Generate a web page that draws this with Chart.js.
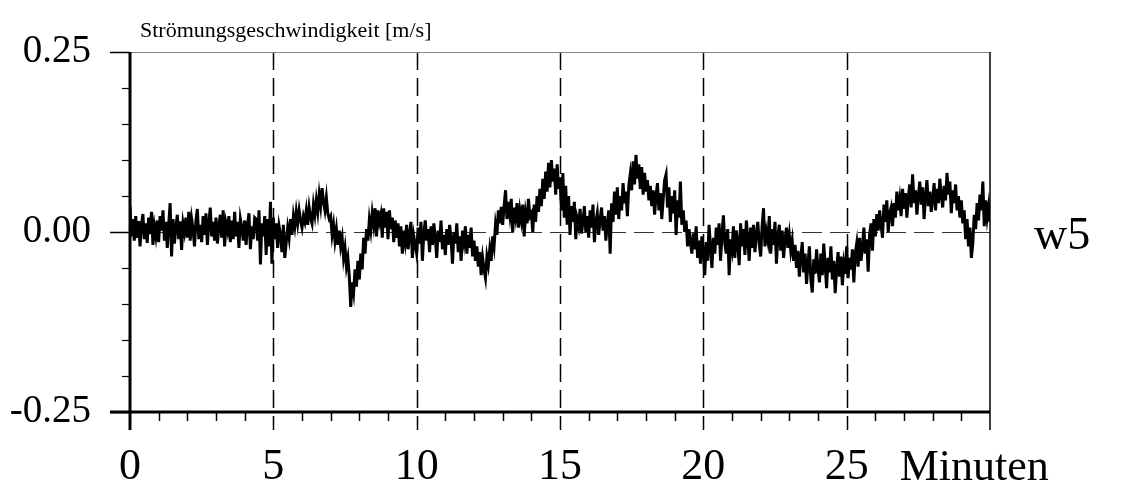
<!DOCTYPE html>
<html>
<head>
<meta charset="utf-8">
<script src="https://cdn.jsdelivr.net/npm/chart.js@4/dist/chart.umd.min.js"></script>
<style>
  html, body { margin: 0; padding: 0; background: #fff; }
  #wrap { width: 1126px; height: 486px; }
</style>
</head>
<body>
<div id="wrap"><canvas id="c" width="1126" height="486"></canvas></div>
<script>
// Axis text
const TITLE = 'Strömungsgeschwindigkeit [m/s]';
const X_UNIT = 'Minuten';
const SERIES_NAME = 'w5';

// Time axis (minutes)
const X_MIN = 0, X_MAX = 30;
const X_TICK_LABELS = [0, 5, 10, 15, 20, 25];
const X_GRID_MINUTES = [5, 10, 15, 20, 25];

// Velocity axis (m/s)
const Y_MIN = -0.25, Y_MAX = 0.25, Y_STEP = 0.05;
const Y_TICK_LABELS = [-0.25, 0, 0.25];

// Sampling of the record: one sample every 3 s
const SAMPLE_INTERVAL_MIN = 0.05;

// Vertical velocity w5 in mm/s, one row per minute (20 samples each)
const w5_mm_per_s = [
  36, -6, 18, -12, 22, -8, 15, -20, 10, 25, -10, 12, -15, 20, -3, 28, -18, 8, -6, 16,
  -14, 22, 2, 30, -12, 14, -22, 10, 40, -34, 18, -16, 6, 24, -10, 15, -25, 12, 0, 20,
  -8, 28, -12, 18, 4, -20, 16, 32, -10, 10, -14, 22, -4, 26, -18, 12, 34, -6, 14, -12,
  20, -16, 8, 24, -8, 30, -20, 12, 2, 22, -14, 16, -10, 28, -6, 14, -22, 18, 6, -12,
  16, -18, 10, 26, -24, 8, -10, 20, 18, -12, 30, -45, 12, -6, 22, -32, 18, -20, 42, -44,
  20, -10, 12, -22, 8, -4, -28, 10, -36, -14, 6, -8, 18, -4, 22, 8, 28, 12, 30, 16,
  6, 22, 14, 30, 10, 34, 20, 12, 38, 24, 44, 28, 52, 36, 61, 42, 30, 48, 26, 18,
  22, -4, 10, -12, 4, -18, 2, -20, -8, -36, -22, -48, -36, -62, -104, -70, -84, -52, -76, -40,
  -66, -30, -52, -8, -30, 4, -12, 17, 2, 26, 10, 33, -6, 30, 14, 24, -8, 33, 6, 28,
  -10, 30, 4, 20, -14, 16, -8, 12, -20, 8, -30, 2, -14, 10, -24, -4, 14, -36, -6, -18,
  -30, 6, -16, 14, -40, -2, 16, -12, 4, -28, 8, -18, 12, -8, -36, 2, -14, 16, -24, -4,
  -32, 4, -18, 10, -10, -44, 0, -16, 12, -28, -6, -40, 2, -14, 8, -30, -4, -22, 6, -34,
  -12, -40, -20, -48, -28, -60, -36, -52, -64, -34, -46, -24, -40, -6, -20, 10, -4, 30, 12, 35,
  10, 36, 58, 18, 42, 24, 46, 0, 34, 20, 40, 6, 30, 16, 38, -6, 26, 12, 46, 22,
  26, 0, 38, 14, 50, 28, 60, 36, 74, 46, 84, 56, 96, 62, 100, 70, 88, 52, 94, 60,
  76, 30, 82, 20, 64, 10, 50, -4, 36, 14, 42, -10, 18, 8, 32, -2, 14, 36, 0, 22,
  -8, 30, 6, 38, -14, 14, 26, -4, 18, 34, 2, 22, -12, 12, 30, -30, 40, 14, 56, 24,
  62, 18, 50, 30, 68, 40, 56, 22, 64, 80, 58, 98, 66, 107, 74, 94, 60, 90, 52, 82,
  56, 72, 44, 64, 36, 58, 24, 50, 68, 30, 54, 18, 46, 72, 80, 34, 62, 14, 50, 26,
  58, -4, 44, 20, 70, 10, 30, 0, 16, -20, 4, -14, -30, -2, -24, 8, -36, -12, -44, -6,
  -26, -60, -14, -40, 10, -22, -50, -8, -30, 6, -18, 12, -40, -4, 23, -16, -30, 4, -60, -10,
  -24, 8, -36, 2, -14, -46, 12, -20, 4, -32, 16, -10, -40, 6, -22, 10, -28, -4, 14, -16,
  -34, 8, 33, -20, 0, -12, 22, -30, 4, -18, 14, -44, -6, 10, -26, 2, -36, -10, 6, -22,
  -4, -26, -12, -40, -18, -50, -26, -62, -36, -14, -56, -30, -72, -44, -20, -66, -84, -38, -58, -24,
  -50, -70, -30, -60, -16, -46, -78, -36, -56, -20, -66, -40, -85, -52, -28, -62, -34, -74, -44, -58,
  -20, -64, -36, -52, -24, -70, -30, -16, -48, -8, -40, -22, 6, -30, -10, -55, -4, 12, -26, 18,
  -6, 25, 2, 30, 10, -8, 38, 14, 44, 0, 26, 34, 8, 40, 20, 56, 30, 46, 22, 60,
  32, 54, 20, 48, 66, 34, 80, 40, 58, 24, 50, 70, 38, 62, 18, 48, 72, 36, 56, 28,
  46, 68, 30, 60, 40, 74, 50, 34, 64, 44, 82, 52, 70, 26, 58, 40, 66, 30, 50, 20,
  44, 12, 30, -10, 18, -20, 6, -36, -16, 24, 4, 40, 16, 52, 30, 70, 8, 44, 20, 36,
  14
];

const FONT = "'Liberation Serif', 'Times New Roman', serif";

const points = w5_mm_per_s.map((v, i) => ({ x: i * SAMPLE_INTERVAL_MIN, y: v / 1000 }));

const near = (a, b) => Math.abs(a - b) < 1e-6;

// Frame, tick marks, dashed reference lines and free text
const frame = {
  id: 'frame',
  beforeDatasetsDraw(chart) {
    const { ctx, chartArea: a, scales: { x, y } } = chart;
    ctx.save();
    ctx.strokeStyle = '#000';
    ctx.lineWidth = 1.5;
    ctx.setLineDash([18, 8]);
    X_GRID_MINUTES.forEach(m => {
      const px = Math.round(x.getPixelForValue(m)) + 0.5;
      ctx.beginPath();
      ctx.moveTo(px, a.top);
      ctx.lineTo(px, a.bottom + 18);
      ctx.stroke();
    });
    ctx.strokeStyle = '#333';
    ctx.lineWidth = 1.2;
    ctx.setLineDash([20, 8]);
    const py0 = Math.round(y.getPixelForValue(0)) + 0.5;
    ctx.beginPath();
    ctx.moveTo(a.left, py0);
    ctx.lineTo(a.right, py0);
    ctx.stroke();
    ctx.restore();
  },
  afterDatasetsDraw(chart) {
    const { ctx, chartArea: a, scales: { x, y } } = chart;
    ctx.save();
    ctx.setLineDash([]);
    // faint top border, thin right border
    ctx.strokeStyle = '#888';
    ctx.lineWidth = 1;
    ctx.beginPath();
    ctx.moveTo(a.left, a.top + 0.5);
    ctx.lineTo(a.right, a.top + 0.5);
    ctx.stroke();
    ctx.strokeStyle = '#000';
    ctx.lineWidth = 1.5;
    ctx.beginPath();
    ctx.moveTo(a.right, a.top);
    ctx.lineTo(a.right, a.bottom + 18);
    ctx.stroke();
    // heavy left and bottom axes
    ctx.lineWidth = 3;
    ctx.beginPath();
    ctx.moveTo(a.left, a.top);
    ctx.lineTo(a.left, a.bottom + 18);
    ctx.stroke();
    ctx.beginPath();
    ctx.moveTo(a.left - 20, a.bottom);
    ctx.lineTo(a.right, a.bottom);
    ctx.stroke();
    // minute ticks below the time axis
    ctx.lineWidth = 1.5;
    x.ticks.forEach(t => {
      if (X_GRID_MINUTES.some(m => near(m, t.value))) return;
      if (near(t.value, X_MIN) || near(t.value, X_MAX)) return;
      const px = Math.round(x.getPixelForValue(t.value)) + 0.5;
      ctx.beginPath();
      ctx.moveTo(px, a.bottom);
      ctx.lineTo(px, a.bottom + 9);
      ctx.stroke();
    });
    // velocity ticks left of the axis
    y.ticks.forEach(t => {
      const py = Math.round(y.getPixelForValue(t.value)) + 0.5;
      const labelled = Y_TICK_LABELS.some(v => near(v, t.value));
      ctx.lineWidth = labelled ? 1.5 : 1.2;
      ctx.beginPath();
      ctx.moveTo(a.left - (labelled ? 20 : 8), py);
      ctx.lineTo(a.left, py);
      ctx.stroke();
    });
    ctx.restore();
  },
  afterDraw(chart) {
    const { ctx, chartArea: a, scales: { x, y } } = chart;
    ctx.save();
    ctx.fillStyle = '#000';
    ctx.textBaseline = 'alphabetic';
    ctx.textAlign = 'left';
    ctx.font = `22px ${FONT}`;
    ctx.fillText(TITLE, a.left + 10, a.top - 15);
    ctx.font = `44px ${FONT}`;
    ctx.fillText(X_UNIT, x.getPixelForValue(25) + 53, 480);
    ctx.font = `46px ${FONT}`;
    ctx.fillText(SERIES_NAME, a.right + 44, y.getPixelForValue(0) + 17);
    ctx.restore();
  }
};

new Chart(document.getElementById('c'), {
  type: 'line',
  data: {
    datasets: [{
      label: SERIES_NAME,
      data: points,
      borderColor: '#000',
      borderWidth: 3,
      borderJoinStyle: 'miter',
      pointRadius: 0,
      fill: false,
      tension: 0
    }]
  },
  options: {
    responsive: false,
    animation: false,
    devicePixelRatio: 1,
    layout: { padding: { left: 0, right: 136, top: 52, bottom: 0 } },
    plugins: { legend: { display: false }, tooltip: { enabled: false }, title: { display: false } },
    scales: {
      x: {
        type: 'linear',
        min: X_MIN,
        max: X_MAX,
        afterFit: s => { s.height = 74; },
        border: { display: false },
        grid: { drawOnChartArea: false, tickLength: 18, tickColor: 'rgba(0,0,0,0)' },
        ticks: {
          stepSize: 1,
          autoSkip: false,
          maxRotation: 0,
          padding: 11,
          color: '#000',
          font: { family: FONT, size: 44 },
          callback: v => X_TICK_LABELS.some(m => near(m, v)) ? String(Math.round(v)) : ''
        }
      },
      y: {
        min: Y_MIN,
        max: Y_MAX,
        afterFit: s => { s.width = 130; },
        border: { display: false },
        grid: { drawOnChartArea: false, tickLength: 20, tickColor: 'rgba(0,0,0,0)' },
        ticks: {
          stepSize: Y_STEP,
          autoSkip: false,
          padding: 19,
          color: '#000',
          font: { family: FONT, size: 39 },
          callback: v => Y_TICK_LABELS.some(m => near(m, v)) ? Number(v).toFixed(2) : ''
        }
      }
    }
  },
  plugins: [frame]
});
</script>
</body>
</html>
